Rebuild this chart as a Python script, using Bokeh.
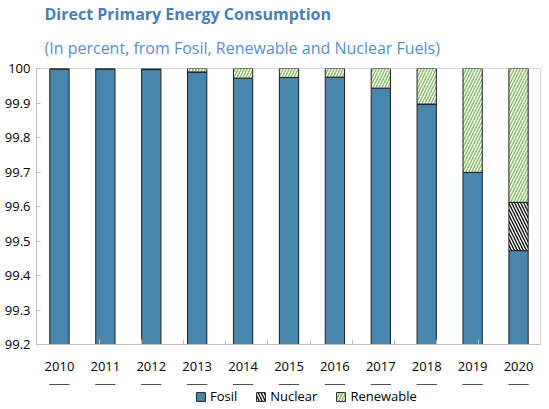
from bokeh.plotting import figure
from bokeh.layouts import column
from bokeh.models import (FactorRange, Range1d, LinearAxis, CategoricalAxis, FixedTicker,
                          CustomJSTickFormatter, Legend, LegendItem, Title, ColumnDataSource)
from bokeh.embed import file_html
from bokeh.resources import INLINE

years = ["2010", "2011", "2012", "2013", "2014", "2015", "2016", "2017", "2018", "2019", "2020"]
fosil = [99.998, 99.998, 99.997, 99.990, 99.972, 99.974, 99.975, 99.943, 99.897, 99.699, 99.472]
nuclear = [0, 0, 0, 0, 0, 0, 0, 0, 0, 0, 0.140]
renewable = [0.002, 0.002, 0.003, 0.010, 0.028, 0.026, 0.025, 0.057, 0.103, 0.301, 0.388]
series = ["Fosil", "Nuclear", "Renewable"]
y_ticks = [99.2, 99.3, 99.4, 99.5, 99.6, 99.7, 99.8, 99.9, 100.0]

FONT = "Open Sans"

src = ColumnDataSource(dict(year=years, Fosil=fosil, Nuclear=nuclear, Renewable=renewable))

bar_style = dict(fill_color=["#4A88B0", "white", "white"],
                 line_color="#1f1f1f", line_width=1,
                 hatch_pattern=["left_diagonal_line", "left_diagonal_line", "right_diagonal_line"],
                 hatch_color=["#3F7CA3", "black", "#8CBF6A"],
                 hatch_alpha=[0.35, 1.0, 1.0],
                 hatch_scale=[4, 6, 6], hatch_weight=[1, 1.3, 1.5])

p = figure(frame_width=505, frame_height=276, x_range=FactorRange(*years, range_padding=0),
           y_range=Range1d(99.2, 100), output_backend="svg", toolbar_location=None,
           x_axis_location=None, y_axis_location=None,
           min_border_left=36, min_border_right=0, min_border_top=0, min_border_bottom=40)

p.title.text = "Direct Primary Energy Consumption"
p.title.text_font = FONT
p.title.text_font_size = "16px"
p.title.text_font_style = "bold"
p.title.text_color = "#4A7FB3"
p.title.offset = 8
p.title.standoff = 0
sub = Title(text="(In percent, from Fosil, Renewable and Nuclear Fuels)", text_font=FONT,
            text_font_size="16px", text_font_style="normal", text_color="#5A8EC3", standoff=20,
            offset=8)
p.add_layout(sub, "above")

p.vbar_stack(series, x="year", width=0.42, source=src, **bar_style)

p.xgrid.visible = False
p.ygrid.visible = False
p.outline_line_color = "#D9D9D9"
p.background_fill_color = "white"
p.border_fill_color = "white"

# y axis
ya = LinearAxis(ticker=FixedTicker(ticks=y_ticks),
                formatter=CustomJSTickFormatter(code="return (Math.round(tick*10)/10).toString();"))
ya.axis_line_color = "#BFBFBF"
ya.major_tick_line_color = "#BFBFBF"
ya.major_tick_in = 4
ya.major_tick_out = 0
ya.minor_tick_line_color = None
ya.major_label_text_font = FONT
ya.major_label_text_font_size = "13px"
ya.major_label_text_color = "#000000"
ya.major_label_standoff = 6
p.add_layout(ya, "left")

# x axis tick marks between categories: a categorical range whose factors sit on the boundaries
boundaries = ["b%d" % i for i in range(len(years) - 1)]
p.extra_x_ranges = {"b": FactorRange(*boundaries, range_padding=1, range_padding_units="absolute")}
xt = CategoricalAxis(x_range_name="b")
xt.major_label_text_font_size = "0px"
xt.major_label_text_color = None
xt.major_label_standoff = 0
xt.major_tick_in = 5
xt.major_tick_out = 0
xt.axis_line_color = "#BFBFBF"
xt.major_tick_line_color = "#BFBFBF"
p.add_layout(xt, "below")

xa = CategoricalAxis()
xa.axis_line_color = None
xa.major_tick_line_color = None
xa.major_tick_in = 0
xa.major_tick_out = 0
xa.major_label_text_font = FONT
xa.major_label_text_font_size = "13px"
xa.major_label_text_color = "#000000"
xa.major_label_standoff = 17
p.add_layout(xa, "below")

# legend strip: a small figure whose bars lie outside its visible range, carrying the legend
lf = figure(width=541, height=25, x_range=p.x_range, y_range=Range1d(-20, -10),
            output_backend="svg", toolbar_location=None,
            x_axis_location=None, y_axis_location=None, min_border=0)
lf.xgrid.visible = False
lf.ygrid.visible = False
lf.outline_line_color = None
lf_renderers = lf.vbar_stack(series, x="year", width=0.42, source=src, **bar_style)

legend = Legend(items=[LegendItem(label=n, renderers=[r]) for n, r in zip(series, lf_renderers)],
                orientation="horizontal", location=(159, 4), border_line_color=None,
                background_fill_alpha=0,
                label_text_font=FONT, label_text_font_size="13px", label_text_color="#000000",
                glyph_width=11, glyph_height=11, spacing=18, label_standoff=4,
                label_height=15, padding=0, margin=0)
lf.add_layout(legend, "center")

open("out.html", "w").write(file_html(column(p, lf, spacing=0), INLINE))
